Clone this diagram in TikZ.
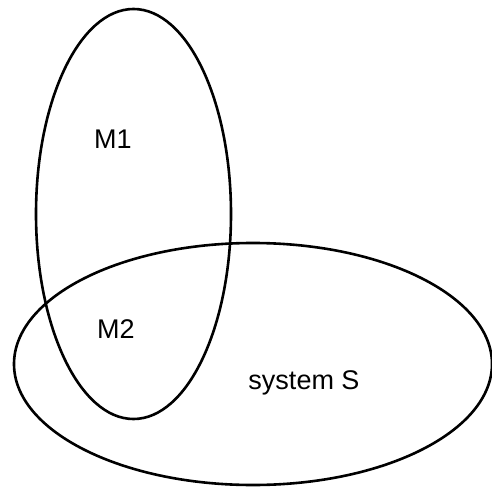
\documentclass[tikz,border=0pt]{standalone}
\usepackage{fontspec}
\setmainfont{Liberation Sans}
\usepackage{tikz}

\begin{document}
\begin{tikzpicture} [x=1bp, y=-1bp, line width=2.6bp,
                     every node/.style={anchor=base, inner sep=0pt, font=\fontsize{27bp}{32bp}\selectfont}]
            \useasboundingbox (0, 0) rectangle (492, 487);

            \draw (133.5, 214) ellipse [x radius=97.5, y radius=205];
            \draw (253, 364)   ellipse [x radius=239, y radius=121];

            \node (m1) at (112.8, 148.3)  {M1};
            \node (m2) at (115.8, 338.3)  {M2};
            \node (s)  at (304, 389.3)    {system S};
        \end{tikzpicture}
\end{document}
